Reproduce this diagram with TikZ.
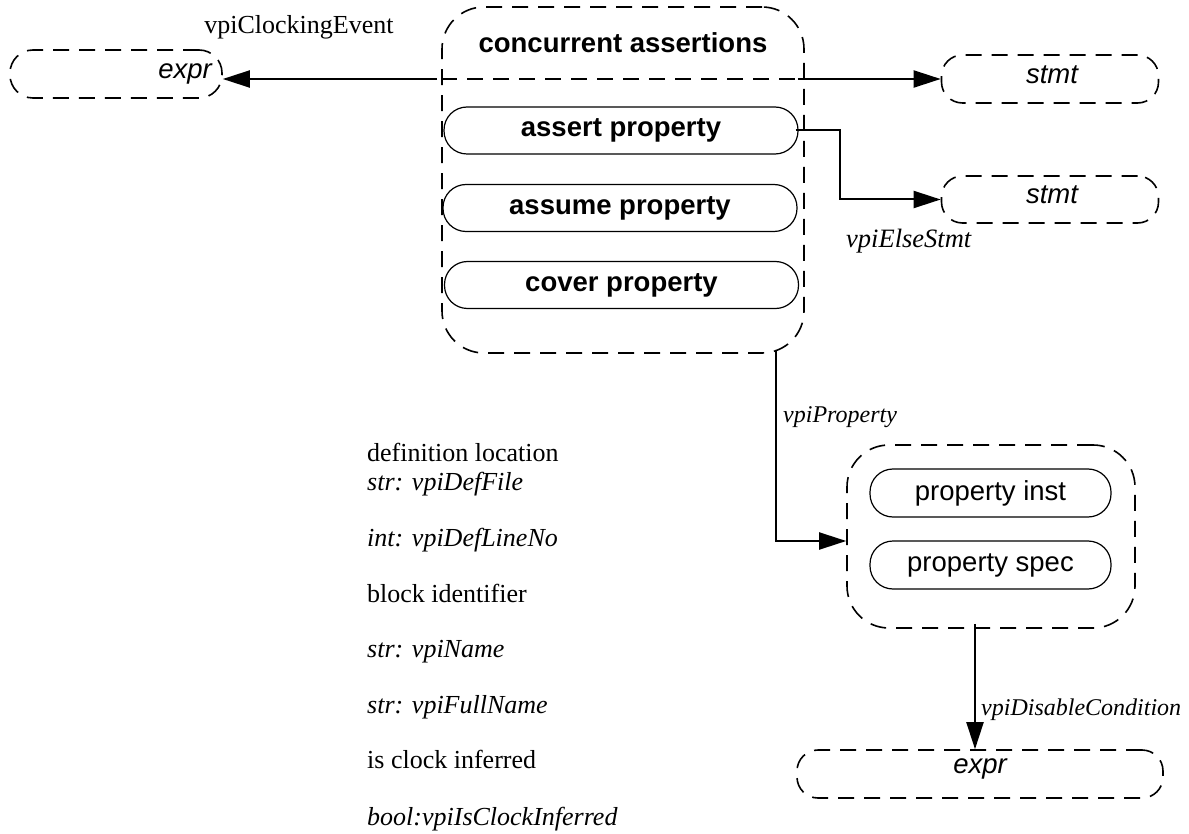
\documentclass[tikz,border=0pt]{standalone}
\usepackage{fontspec}
\setmainfont{Liberation Serif}
\setsansfont{Liberation Sans}
\usetikzlibrary{arrows.meta}
\begin{document}
\begin{tikzpicture}[x=1pt,y=-1pt,
  dbox/.style={draw, line width=1.6pt, dash pattern=on 16pt off 10pt, rectangle, inner sep=0pt},
  sbox/.style={draw, line width=1.2pt, rectangle, rounded corners=23pt, inner sep=0pt,
    minimum width=354pt, minimum height=47pt, font=\sffamily\bfseries\fontsize{27.5}{32}\selectfont},
  pbox/.style={draw, line width=1.2pt, rectangle, rounded corners=23pt, inner sep=0pt,
    minimum width=241pt, minimum height=48pt, font=\sffamily\fontsize{27.5}{32}\selectfont},
  stxt/.style={font=\sffamily\itshape\fontsize{27.5}{32}\selectfont, inner sep=0pt},
  lbl/.style={font=\itshape\fontsize{24}{28}\selectfont, inner sep=0pt},
  lst/.style={font=\fontsize{26}{30}\selectfont, inner sep=0pt, anchor=base west},
  conn/.style={line width=2pt},
  arr/.style={-{Triangle[length=27pt,width=17pt]}}
]
\useasboundingbox (0,0) rectangle (1189,834);

% dashed boxes
\node[dbox, rounded corners=23pt, minimum width=212pt, minimum height=48pt] (e1) at (116,74) {};
\node[stxt] (e1t) at (185,74) {expr};
\node[dbox, rounded corners=42pt, minimum width=362pt, minimum height=346pt] (ca) at (623,180) {};
\node[font=\sffamily\bfseries\fontsize{27.5}{32}\selectfont, inner sep=0pt] (cat) at (623,43) {concurrent assertions};
\node[dbox, rounded corners=21pt, minimum width=217pt, minimum height=48pt] (s1) at (1050,79) {};
\node[stxt] (s1t) at (1052,75) {stmt};
\node[dbox, rounded corners=21pt, minimum width=217pt, minimum height=47pt] (s2) at (1050,199.5) {};
\node[stxt] (s2t) at (1052,195) {stmt};
\node[dbox, rounded corners=42pt, minimum width=288pt, minimum height=183pt] (pb) at (991,536.5) {};
\node[dbox, rounded corners=21pt, minimum width=366pt, minimum height=48pt] (ex2) at (980,774) {};
\node[stxt] (ex2t) at (980,769) {expr};

% solid boxes
\node[sbox] (asrt) at (621,130.5) {assert property};
\node[sbox] (asm) at (620,208) {assume property};
\node[sbox] (cov) at (621.5,285) {cover property};
\node[pbox] (pi) at (990.5,493) {property inst};
\node[pbox] (ps) at (990.5,565) {property spec};

% connectors
\draw[conn, arr] ([xshift=-4pt]ca.west |- s1.west) -- (e1.east |- s1.west);
\draw[line width=1.6pt, dash pattern=on 16pt off 10pt] (ca.west |- s1.west) -- (ca.east |- s1.west);
\draw[conn, arr] ([xshift=-7pt]ca.east |- s1.west) -- (s1.west);
\draw[conn, arr] ([xshift=-3pt]asrt.east) -- ++(44,0) |- (s2.west);
\draw[conn, arr] ([xshift=153pt,yshift=4pt]ca.south) |- ([yshift=-4.5pt]pb.west);
\draw[conn, arr] ([xshift=-5pt,yshift=5pt]ex2.north |- pb.south) -- ([xshift=-5pt]ex2.north);

% labels
\node[font=\fontsize{26}{30}\selectfont, inner sep=0pt] (lce) at (299,27) {vpiClockingEvent};
\node[lbl, font=\itshape\fontsize{26.5}{30}\selectfont, anchor=base west] (les) at (846,248) {vpiElseStmt};
\node[lbl, anchor=base west] (lvp) at (783,422) {vpiProperty};
\node[lbl, anchor=base west] (ldc) at (981,715) {vpiDisableCondition};

% list
\node[lst] (t1) at (367,461) {definition location};
\node[lst] (t2) at (367,490) {\itshape str: vpiDefFile};
\node[lst] (t3) at (367,546) {\itshape int: vpiDefLineNo};
\node[lst] (t4) at (367,602) {block identifier};
\node[lst] (t5) at (367,657) {\itshape str: vpiName};
\node[lst] (t6) at (367,713) {\itshape str: vpiFullName};
\node[lst] (t7) at (367,768) {is clock inferred};
\node[lst] (t8) at (367,825) {\itshape bool:vpiIsClockInferred};
\end{tikzpicture}
\end{document}
